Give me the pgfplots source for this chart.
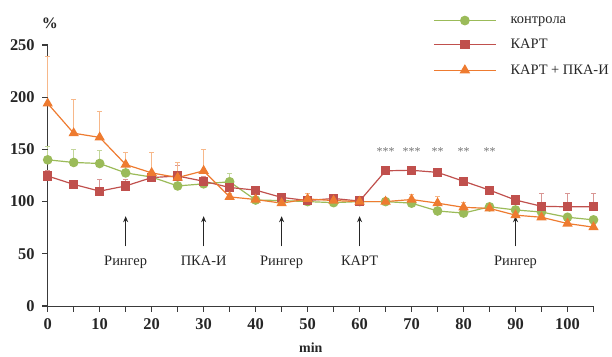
\documentclass[border=0pt]{standalone}
\usepackage{fontspec}
\setmainfont{Liberation Serif}
\usepackage{pgfplots}
\usepackage{pgfplotstable}
\pgfplotsset{compat=1.18}
\usetikzlibrary{arrows.meta}
\definecolor{cgreen}{HTML}{9BBB59}
\definecolor{cgreenL}{HTML}{C3D69B}
\definecolor{cred}{HTML}{C0504D}
\definecolor{credL}{HTML}{D99694}
\definecolor{corange}{HTML}{EE7B30}
\definecolor{corangeL}{HTML}{F7B88A}
\definecolor{axgray}{HTML}{3A3A3A}

\pgfplotstableread{
x y e
0 140 13
5 137.5 12
10 136.5 12
15 127.5 8
20 123.5 5
25 115 5
30 117 4
35 119 8
40 101.5 3
45 101 3
50 100 3
55 99 2
60 100 2
65 100 3
70 98.5 3
75 91 3
80 89 3
85 95 3
90 92 3
95 90 3
100 85 3
105 82.5 3
}\control

\pgfplotstableread{
x y e
0 124.5 5
5 116.5 4
10 110 11
15 115 6
20 123 5
25 124.5 10
30 119.5 5
35 113.5 4
40 111 3
45 104 3
50 101 3
55 103 3
60 100.5 2
65 129.5 3
70 130 3
75 128 3
80 119.5 3
85 111 3
90 101.5 3
95 95.5 12
100 95 13
105 95 13
}\kart

\pgfplotstableread{
x y e
0 194 45
5 165.5 32
10 161.5 25
15 135.5 12
20 127.5 20
25 123 14
30 129.5 20
35 104.5 3
40 102 3
45 98.5 3
50 102.5 5
55 101 3
60 100 2
65 100 3
70 102 5
75 98.5 6
80 94.5 5
85 93.5 3
90 87 3
95 85 3
100 79 3
105 75.5 3
}\kartpka

\tikzset{arr/.style={-{Stealth[length=6bp,width=5bp]}, line width=1.1pt, black!85},
  lbl/.style={anchor=base, font=\fontsize{14.5}{14.5}\selectfont, text=black!85},
  stars/.style={font=\fontsize{12}{12}\selectfont, text=black!55},
  tk/.style={axgray, line width=1.1pt}}

\begin{document}
\begin{tikzpicture}
\path[use as bounding box] (-47.7bp,-51bp) rectangle (564.3bp,306bp);
\begin{axis}[
  scale only axis, width=545.8bp, height=261bp,
  xmin=0, xmax=105, ymin=0, ymax=250,
  axis x line=bottom, axis y line=left,
  axis line style={axgray, line width=1pt, -},
  xtick={0,10,...,100}, minor xtick={5,15,...,105},
  ytick={0,50,...,250},
  xtick align=outside, ytick align=outside,
  major tick length=5.5bp, minor tick length=5.5bp,
  every tick/.append style={axgray, line width=1.1pt},
  every minor tick/.append style={axgray, line width=1.1pt},
  ticklabel style={font=\bfseries\fontsize{16.5}{16.5}\selectfont, text=black!85},
  xticklabel style={yshift=-4bp},
  yticklabel style={xshift=-4bp},
  /pgf/number format/assume math mode=true,
  clip=false,
  legend style={at={(rel axis cs:0.706,1.118)}, anchor=north west, draw=none, fill=none,
    font=\fontsize{14.5}{14.5}\selectfont, text=black!85, row sep=10.5bp,
    cells={anchor=west}, inner sep=0pt,
    /tikz/every odd column/.append style={column sep=12bp}},
  legend image code/.code={\draw[mark repeat=2,mark phase=2,#1] plot coordinates {(0bp,0bp) (31bp,0bp) (62bp,0bp)};},
]
\addlegendimage{cgreen, line width=1.3pt, mark=*, mark size=4.2bp, mark options={solid, fill=cgreen, draw=cgreen}}
\addlegendentry{контрола}
\addlegendimage{cred, line width=1.3pt, mark=square*, mark size=4bp, mark options={solid, fill=cred, draw=cred}}
\addlegendentry{КАРТ}
\addlegendimage{corange, line width=1.3pt, mark=triangle*, mark size=4.8bp, mark options={solid, fill=corange, draw=corange}}
\addlegendentry{КАРТ + ПКА-И}

\addplot[forget plot, cgreen, line width=1.2pt, mark=*, mark size=4.2bp, mark options={solid, fill=cgreen, draw=cgreen},
  error bars/.cd, y dir=plus, y explicit,
  error bar style={cgreenL, line width=1pt},
  error mark options={rotate=90, cgreenL, mark size=2.5bp, line width=1pt}]
  table[x=x, y=y, y error=e] {\control};
\addplot[forget plot, cred, line width=1.2pt, mark=square*, mark size=4bp, mark options={solid, fill=cred, draw=cred},
  error bars/.cd, y dir=plus, y explicit,
  error bar style={credL, line width=1pt},
  error mark options={rotate=90, credL, mark size=2.5bp, line width=1pt}]
  table[x=x, y=y, y error=e] {\kart};
\addplot[forget plot, corange, line width=1.2pt, mark=triangle*, mark size=4.8bp, mark options={solid, fill=corange, draw=corange},
  error bars/.cd, y dir=plus, y explicit,
  error bar style={corangeL, line width=1pt},
  error mark options={rotate=90, corangeL, mark size=2.5bp, line width=1pt}]
  table[x=x, y=y, y error=e] {\kartpka};

\pgfplotsinvokeforeach{0,5,...,105}{\draw[tk] (axis cs:#1,0) -- ++(0,-5.5bp);}
\pgfplotsinvokeforeach{0,50,...,250}{\draw[tk] (axis cs:0,#1) -- ++(-5.5bp,0);}

\draw[arr] (axis cs:15,57) -- (axis cs:15,86);
\draw[arr] (axis cs:30,57) -- (axis cs:30,86);
\draw[arr] (axis cs:45,57) -- (axis cs:45,86);
\draw[arr] (axis cs:60,57) -- (axis cs:60,86);
\draw[arr] (axis cs:90,57) -- (axis cs:90,86);
\node[lbl] at (axis cs:15,39) {Рингер};
\node[lbl] at (axis cs:30,39) {ПКА-И};
\node[lbl] at (axis cs:45,39) {Рингер};
\node[lbl] at (axis cs:60,39) {КАРТ};
\node[lbl] at (axis cs:90,39) {Рингер};

\node[stars] at (axis cs:65,148) {***};
\node[stars] at (axis cs:70,148) {***};
\node[stars] at (axis cs:75,148) {**};
\node[stars] at (axis cs:80,148) {**};
\node[stars] at (axis cs:85,148) {**};
\node[anchor=base, font=\bfseries\fontsize{16}{16}\selectfont, text=black!85] at (rel axis cs:0.004,1.065) {\%};
\node[anchor=base, font=\bfseries\fontsize{14}{14}\selectfont, text=black!85] at (rel axis cs:0.482,-0.178) {min};
\end{axis}
\end{tikzpicture}
\end{document}
